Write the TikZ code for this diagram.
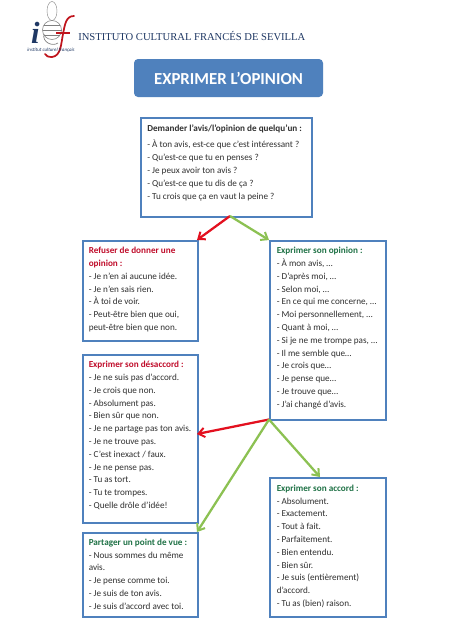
\documentclass[tikz,border=0pt]{standalone}
\usepackage{fontspec}
\setmainfont{Carlito}
\newfontfamily\headfont{Liberation Serif}
\usetikzlibrary{arrows.meta}
\definecolor{boxblue}{HTML}{4F81BD}
\definecolor{titleblue}{HTML}{4F81BD}
\definecolor{redarrow}{HTML}{E3101F}
\definecolor{greenarrow}{HTML}{8CC152}
\definecolor{redtxt}{HTML}{C00D2B}
\definecolor{greentxt}{HTML}{1E7145}
\definecolor{txt}{HTML}{303030}
\definecolor{navy}{HTML}{1F3864}
\definecolor{logored}{HTML}{C0141C}
\newcommand{\lsz}{\fontsize{6.87pt}{9.6pt}\selectfont}
\tikzset{
 x=0.75pt,y=-0.75pt,
 box/.style={draw=boxblue,line width=1.5pt,fill=white,inner sep=0pt,anchor=north west},
 body/.style={anchor=north west,align=left,inner sep=0pt,font=\lsz,text=txt},
 redarr/.style={draw=redarrow,line width=1.7pt,-{Straight Barb[length=4.5pt,width=7pt,line width=1.5pt]}},
 greenarr/.style={draw=greenarrow,line width=1.7pt,-{Straight Barb[length=4.5pt,width=7pt,line width=1.5pt]}},
}
\begin{document}
\begin{tikzpicture}
\useasboundingbox (0,0) rectangle (452,640);
\fill[white] (0,0) rectangle (452,640);
% logo
\node[inner sep=0pt,text=navy,anchor=south] (logoi) at (35.5,43.5) {\headfont\fontsize{23pt}{23pt}\selectfont\bfseries\itshape i};
\draw[gray,line width=0.4pt] (52,30) circle (9.5);
\draw[gray,line width=0.3pt] (52,20.5) arc[start angle=90,end angle=270,x radius=5,y radius=9.5];
\draw[gray,line width=0.3pt] (52,20.5) arc[start angle=90,end angle=-90,x radius=5,y radius=9.5];
\draw[gray,line width=0.3pt] (42.5,30) -- (61.5,30) (44,25) -- (60,25) (44,35) -- (60,35);
\draw[gray,line width=0.5pt] (44,34) .. controls (42,42) and (52,47) .. (58,43);
\draw[logored,line width=1.3pt,line cap=round] (74,16) .. controls (66,16) and (65,24) .. (63,34) .. controls (61,44) and (61,56) .. (52,57) .. controls (48,57) and (46,56) .. (45,54);
\draw[logored,line width=0.9pt] (56,33) -- (70,33);
\node[inner sep=0pt,text=navy] (logotxt) at (51,50.5) {\fontsize{3.7pt}{4pt}\selectfont\itshape institut culturel français};
\node[anchor=west,inner sep=0pt,text=navy] (head) at (78,36) {\headfont\fontsize{7.94pt}{10pt}\selectfont INSTITUTO CULTURAL FRANCÉS DE SEVILLA};
% title
\node[fill=titleblue,rounded corners=3pt,minimum width=141.75pt,minimum height=28.5pt,inner sep=0pt,text=white,anchor=center] (title) at (228.5,78) {\fontsize{12.6pt}{14pt}\selectfont\bfseries EXPRIMER L’OPINION};
% boxes
\node[box,minimum width=128.25pt,minimum height=74.25pt] (top) at (140,117) {};
\node[box,minimum width=86.25pt,minimum height=75pt] (ref) at (82,240) {};
\node[box,minimum width=87pt,minimum height=134.25pt] (opi) at (269,240) {};
\node[box,minimum width=86.25pt,minimum height=126pt] (des) at (82,354) {};
\node[box,minimum width=86.25pt,minimum height=63pt] (par) at (82,532) {};
\node[box,minimum width=87pt,minimum height=104.25pt] (acc) at (269,477) {};
% arrows
\coordinate (topout) at (230,216);
\coordinate (refin) at (197,240);
\coordinate (opiin) at (269,240);
\coordinate (opiout) at (269,419.5);
\coordinate (desin) at (197,434);
\coordinate (parin) at (197,532);
\coordinate (accin) at (320,477);
\draw[redarr] (topout) -- (refin);
\draw[greenarr] (topout) -- (opiin);
\draw[redarr] (opiout) -- (desin);
\draw[greenarr] (opiout) -- (parin);
\draw[greenarr] (opiout) -- (accin);
% text
\node[body] (toptitle) at (147,124.5) {\textbf{Demander l’avis/l’opinion de quelqu’un :}};
\node[body] (toptext) at (147,140) {- À ton avis, est-ce que c’est intéressant ?\\- Qu’est-ce que tu en penses ?\\- Je peux avoir ton avis ?\\- Qu’est-ce que tu dis de ça ?\\- Tu crois que ça en vaut la peine ?};
\node[body] (reftext) at (88.5,247) {\textcolor{redtxt}{\textbf{Refuser de donner une}}\\\textcolor{redtxt}{\textbf{opinion :}}\\- Je n’en ai aucune idée.\\- Je n’en sais rien.\\- À toi de voir.\\- Peut-être bien que oui,\\peut-être bien que non.};
\node[body] (opitext) at (276.5,247) {\textcolor{greentxt}{\textbf{Exprimer son opinion :}}\\- À mon avis, …\\- D’après moi, …\\- Selon moi, …\\- En ce qui me concerne, …\\- Moi personnellement, …\\- Quant à moi, …\\- Si je ne me trompe pas, …\\- Il me semble que…\\- Je crois que…\\- Je pense que…\\- Je trouve que…\\- J’ai changé d’avis.};
\node[body] (destext) at (88.5,361) {\textcolor{redtxt}{\textbf{Exprimer son désaccord :}}\\- Je ne suis pas d’accord.\\- Je crois que non.\\- Absolument pas.\\- Bien sûr que non.\\- Je ne partage pas ton avis.\\- Je ne trouve pas.\\- C’est inexact / faux.\\- Je ne pense pas.\\- Tu as tort.\\- Tu te trompes.\\- Quelle drôle d’idée!};
\node[body] (partext) at (88.5,538.5) {\textcolor{greentxt}{\textbf{Partager un point de vue :}}\\- Nous sommes du même\\avis.\\- Je pense comme toi.\\- Je suis de ton avis.\\- Je suis d’accord avec toi.};
\node[body] (acctext) at (276.5,484.5) {\textcolor{greentxt}{\textbf{Exprimer son accord :}}\\- Absolument.\\- Exactement.\\- Tout à fait.\\- Parfaitement.\\- Bien entendu.\\- Bien sûr.\\- Je suis (entièrement)\\d’accord.\\- Tu as (bien) raison.};
\end{tikzpicture}
\end{document}
